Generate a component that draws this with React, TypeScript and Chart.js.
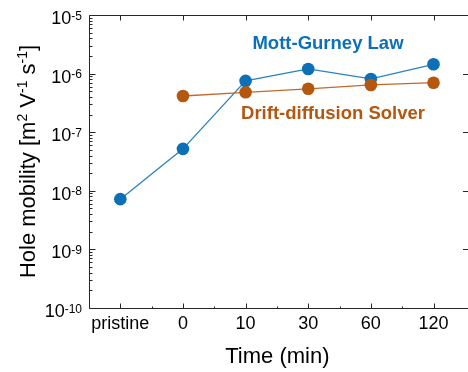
import React, { useEffect, useRef } from 'react';
import { Chart, registerables } from 'chart.js';

Chart.register(...registerables);

// ---- data ----
const categories = ['pristine', '0', '10', '30', '60', '120'];
const mottGurney = [7.2e-9, 5.2e-8, 7.5e-7, 1.2e-6, 8.1e-7, 1.44e-6];
const driftDiffusion: (number | null)[] = [null, 4.15e-7, 4.8e-7, 5.5e-7, 6.4e-7, 7.0e-7];
const yExponents = [-10, -9, -8, -7, -6, -5];
const xTitle = 'Time (min)';
const yTitleParts: [string, boolean][] = [
  ['Hole mobility [m', false],
  ['2', true],
  [' V', false],
  ['-1', true],
  [' s', false],
  ['-1', true],
  [']', false],
];
const seriesLabels = ['Mott-Gurney Law', 'Drift-diffusion Solver'];

const BLUE = '#0b70b8';
const BLUE_LINE = '#2a82c2';
const ORANGE = '#b5570f';
const ORANGE_LINE = '#c06a2a';
const AXIS = '#262626';
const FONT = '"Liberation Sans", Arial, Helvetica, sans-serif';

const toPoints = (arr: (number | null)[]) =>
  arr.map((v, i) => (v == null ? null : { x: i, y: v })).filter(Boolean) as { x: number; y: number }[];

const axesPlugin = {
  id: 'customAxes',
  beforeDatasetsDraw(chart: any) {
    const { ctx, chartArea } = chart;
    const xs = chart.scales.x;
    const ys = chart.scales.y;
    const L = chartArea.left + 0.5;
    const R = chartArea.right + 2;
    const T = chartArea.top + 0.5;
    const B = chartArea.bottom + 0.5;
    ctx.save();
    ctx.strokeStyle = AXIS;
    ctx.lineWidth = 1;
    ctx.beginPath();
    ctx.moveTo(L, B);
    ctx.lineTo(L, T);
    ctx.lineTo(R, T);
    ctx.moveTo(L, B);
    ctx.lineTo(R, B);
    ctx.stroke();
    // y ticks (log)
    ctx.beginPath();
    for (let e = yExponents[0]; e <= yExponents[yExponents.length - 1]; e++) {
      const y = Math.round(ys.getPixelForValue(Math.pow(10, e))) + 0.5;
      ctx.moveTo(L, y);
      ctx.lineTo(L + 6, y);
      ctx.moveTo(chart.width, y);
      ctx.lineTo(chart.width - 5, y);
      if (e < yExponents[yExponents.length - 1]) {
        for (let k = 2; k <= 9; k++) {
          const ym = Math.round(ys.getPixelForValue(k * Math.pow(10, e))) + 0.5;
          ctx.moveTo(L, ym);
          ctx.lineTo(L + 3, ym);
        }
      }
    }
    // x ticks
    categories.forEach((_, i) => {
      const x = Math.round(xs.getPixelForValue(i)) + 0.5;
      ctx.moveTo(x, B);
      ctx.lineTo(x, B - 5);
      ctx.moveTo(x, T);
      ctx.lineTo(x, T + 5);
      if (i < categories.length - 1) {
        const xm = Math.round(xs.getPixelForValue(i + 0.5)) + 0.5;
        ctx.moveTo(xm, B);
        ctx.lineTo(xm, B - 2);
      }
    });
    ctx.stroke();
    ctx.restore();
  },
  afterDraw(chart: any) {
    const { ctx, chartArea } = chart;
    const xs = chart.scales.x;
    const ys = chart.scales.y;
    ctx.save();
    ctx.fillStyle = '#000';
    // y tick labels with superscripts
    yExponents.forEach((e) => {
      const y = ys.getPixelForValue(Math.pow(10, e));
      const right = 82;
      ctx.font = `12px ${FONT}`;
      ctx.textAlign = 'right';
      ctx.textBaseline = 'alphabetic';
      const expStr = String(e);
      const ew = ctx.measureText(expStr).width;
      ctx.fillText(expStr, right, y + 4.6);
      ctx.font = `18px ${FONT}`;
      ctx.fillText('10', right - ew, y + 9);
    });
    // x tick labels
    ctx.font = `18px ${FONT}`;
    ctx.textAlign = 'center';
    ctx.textBaseline = 'alphabetic';
    categories.forEach((c, i) => {
      ctx.fillText(c, xs.getPixelForValue(i), 329);
    });
    // x title
    ctx.font = `22px ${FONT}`;
    ctx.fillText(xTitle, (chartArea.left + chartArea.right) / 2 + 2, 363);
    // y title (rotated, with superscripts)
    const big = `22px ${FONT}`;
    const small = `14px ${FONT}`;
    let total = 0;
    yTitleParts.forEach(([t, sup]) => {
      ctx.font = sup ? small : big;
      total += ctx.measureText(t).width;
    });
    const cy = (chartArea.top + chartArea.bottom) / 2;
    ctx.translate(35, cy);
    ctx.rotate(-Math.PI / 2);
    ctx.textAlign = 'left';
    let cx = -total / 2;
    yTitleParts.forEach(([t, sup]) => {
      ctx.font = sup ? small : big;
      ctx.fillText(t, cx, sup ? -8 : 0);
      cx += ctx.measureText(t).width;
    });
    ctx.setTransform(1, 0, 0, 1, 0, 0);
    // series labels
    ctx.textAlign = 'center';
    ctx.font = `bold 18.5px ${FONT}`;
    ctx.fillStyle = BLUE;
    ctx.fillText(seriesLabels[0], 328, 49);
    ctx.fillStyle = ORANGE;
    ctx.fillText(seriesLabels[1], 333, 119);
    ctx.restore();
  },
};

export default function App() {
  const ref = useRef<HTMLCanvasElement>(null);
  useEffect(() => {
    document.body.style.margin = '0';
    if (!ref.current) return;
    const chart = new Chart(ref.current, {
      type: 'line',
      data: {
        datasets: [
          {
            label: seriesLabels[1],
            data: toPoints(driftDiffusion),
            borderColor: ORANGE_LINE,
            backgroundColor: ORANGE,
            pointBackgroundColor: ORANGE,
            pointBorderWidth: 0,
            pointRadius: 6.3,
            borderWidth: 1.3,
          },
          {
            label: seriesLabels[0],
            data: toPoints(mottGurney),
            borderColor: BLUE_LINE,
            backgroundColor: BLUE,
            pointBackgroundColor: BLUE,
            pointBorderWidth: 0,
            pointRadius: 6.3,
            borderWidth: 1.3,
          },
        ],
      },
      options: {
        responsive: false,
        animation: false,
        layout: { padding: { left: 89, top: 15, right: 1, bottom: 64 } },
        plugins: { legend: { display: false }, tooltip: { enabled: false } },
        scales: {
          x: { type: 'linear', display: false, min: -0.5, max: 5.45 },
          y: { type: 'logarithmic', display: false, min: 1e-10, max: 1e-5 },
        },
      },
      plugins: [axesPlugin],
    });
    return () => chart.destroy();
  }, []);
  return (
    <div style={{ width: 468, height: 372, background: '#fff' }}>
      <canvas ref={ref} width={468} height={372} />
    </div>
  );
}
